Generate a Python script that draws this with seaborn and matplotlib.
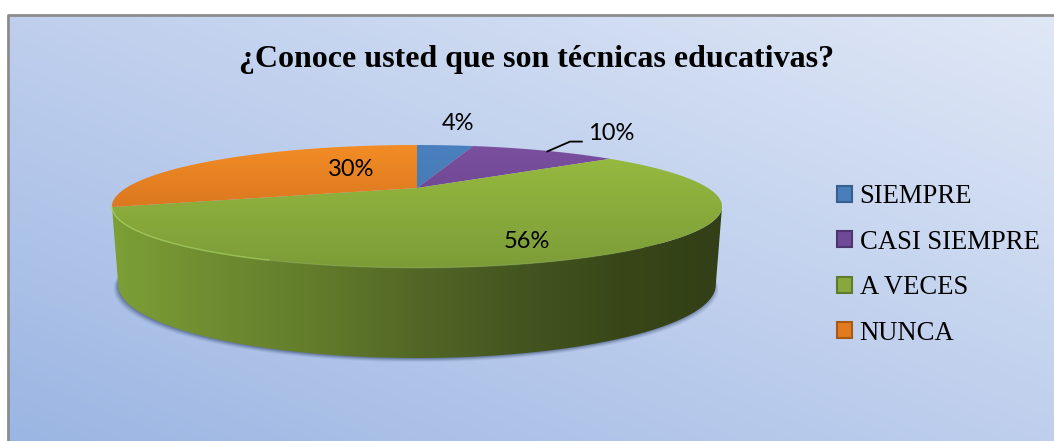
import numpy as np
import seaborn as sns
from matplotlib import pyplot as plt
from matplotlib.patches import Patch, Polygon

# datos del grafico
categorias = ['SIEMPRE', 'CASI SIEMPRE', 'A VECES', 'NUNCA']
porcentajes = [4, 10.4, 55.6, 30]
titulo = '¿Conoce usted que son técnicas educativas?'

# colores (arriba -> abajo) de cada porcion
grad_porciones = [['#4a80bd', '#3f74ab'],
                  ['#7b509f', '#5c3d80'],
                  ['#98bd40', '#7c9c38'],
                  ['#f28c25', '#c4651b']]
color_leyenda = ['#4a7ebb', '#6f4a96', '#86a83c', '#e07b20']
borde_leyenda = ['#34608f', '#4f3570', '#5f7a2a', '#a85a15']
grad_lado = ['#7c9f36', '#6f8c31', '#627c2b', '#526726', '#445620', '#394718', '#323f17']

# posiciones de las etiquetas (pixeles)
pos_etiquetas = [(458, 122), (611, 133), (527, 240), (351, 168)]

sns.set_style('white')

fig = plt.figure(figsize=(10.54, 4.41), dpi=100)
ax = fig.add_axes([0, 0, 1, 1])

W, H = 1054, 441
CX = 417
K = 0.30


def proyectar(t, cy, a, b):
    # circulo -> elipse con perspectiva
    sx, sy = np.sin(t), np.cos(t)
    den = 1 + K * sy
    return CX + b * sx / den, cy - a * sy / den


def sup(t):
    return proyectar(t, 188, 55.9, 291)


def inf(t, extra=0):
    return proyectar(t, 263 + extra, 66.5, 285)


def relleno(colores, extent, poly, vertical=True, n=256):
    # imagen con degradado recortada al poligono
    pal = np.array(sns.blend_palette(colores, n))
    img = pal[:, None, :] if vertical else pal[None, :, :]
    x0, x1, y0, y1 = extent
    im = ax.imshow(img, extent=(x0, x1, y1, y0), aspect='auto', zorder=poly.get_zorder(),
                   interpolation='bilinear')
    poly.set_transform(ax.transData)
    im.set_clip_path(poly)
    return im


# fondo: oscuro abajo-izquierda, claro arriba-derecha
yy, xx = np.mgrid[0:1:200j, 0:1:400j]
pal_fondo = np.array(sns.blend_palette(['#9bb6e3', '#b4c7ea', '#c9d7f0', '#e0e8f6'], 256))
fondo = pal_fondo[((xx * 0.5 + (1 - yy) * 0.5) * 255).astype(int)]
ax.imshow(fondo, extent=(8, W, H, 15), aspect='auto', zorder=0)
ax.plot([8, 8, W], [H, 15, 15], color='#8c8c8c', lw=2, zorder=1)

# sombra
t_all = np.linspace(0, 2 * np.pi, 300)
for i, alpha in zip([3, 2, 1, 0], [0.12, 0.2, 0.3, 0.5]):
    xs, ys = inf(t_all, extra=1)
    xs = CX + (xs - CX) * (1 + i * 0.004)
    ax.add_patch(Polygon(np.c_[xs - 1, ys + i], closed=True, color='#54688f', alpha=alpha, lw=0, zorder=2))

# lado del pastel
cortes = np.cumsum([0] + porcentajes) / 100 * 2 * np.pi
t_der = np.arccos(-K)
t_izq = 2 * np.pi - t_der
t_lado = np.linspace(t_der, t_izq, 200)
xt, yt = sup(t_lado)
xb, yb = inf(t_lado)
lado = Polygon(np.r_[np.c_[xt, yt], np.c_[xb, yb][::-1]], closed=True, zorder=3)
relleno(grad_lado, (112, 722, 140, 365), lado, vertical=False)

# porciones superiores
for i in range(len(porcentajes)):
    t = np.linspace(cortes[i], cortes[i + 1], 120)
    xp, yp = sup(t)
    verts = np.r_[[[CX, 188]], np.c_[xp, yp]]
    p = Polygon(verts, closed=True, zorder=4)
    relleno(grad_porciones[i], (112, 722, 145, 268), p)

# brillo del borde
t1 = np.linspace(np.pi * 1.12, t_izq, 60)
t2 = np.linspace(np.pi * 0.8, np.pi * 1.12, 60)
ax.plot(*sup(t1), color='#a6d05c', lw=1.1, alpha=0.7, zorder=5)
ax.plot(*sup(t2), color='#a6d05c', lw=0.9, alpha=0.25, zorder=5)

# etiquetas de datos
for v, (x, y) in zip(porcentajes, pos_etiquetas):
    ax.text(x, y + 1, f'{v:.0f}%', fontsize=17, family='Lato', color='black', ha='center', va='center', zorder=6)

# linea guia del 10%
t_guia = (cortes[1] + cortes[2]) / 2
gx, gy = sup(t_guia)
ax.plot([gx + 3, gx + 26, gx + 38], [gy + 1, gy - 9, gy - 9], color='black', lw=1.3, zorder=6)

ax.text(537, 59, titulo, fontsize=23, family='Liberation Serif', weight='bold', color='black',
        ha='center', va='center', zorder=6)

# leyenda
handles = [Patch(facecolor=c, edgecolor=e, lw=1.5) for c, e in zip(color_leyenda, borde_leyenda)]
ax.legend(handles, categorias, loc='upper left', bbox_to_anchor=(837 / W, 1 - 184 / H), frameon=False,
          prop={'family': 'Liberation Serif', 'size': 19.2}, labelcolor='black', labelspacing=0.77,
          handlelength=0.55, handleheight=0.55, handletextpad=0.3, borderpad=0, borderaxespad=0)

ax.set_xlim(0, W)
ax.set_ylim(H, 0)
ax.axis('off')
fig.savefig('out.png', dpi=100, facecolor='white')
